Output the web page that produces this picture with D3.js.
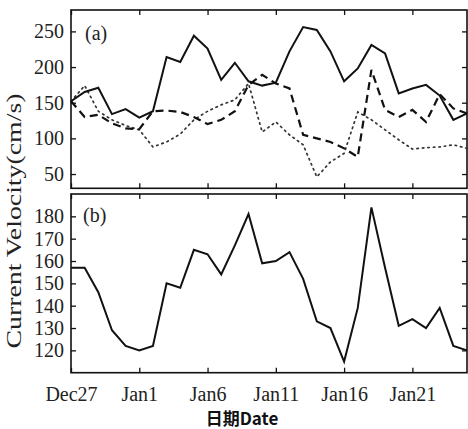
<!DOCTYPE html>
<html><head><meta charset="utf-8">
<script src="https://cdn.jsdelivr.net/npm/d3@7"></script>
<style>body{margin:0;background:#fff}svg{display:block}
.serif{font-family:"Liberation Serif",serif}</style>
</head><body>
<script>
const days = [0,1,2,3,4,5,6,7,8,9,10,11,12,13,14,15,16,17,18,19,20,21,22,23,24,25,26,27,28,29];
const tickDays = [0,5,10,15,20,25];
const tickLabels = ["Dec27","Jan1","Jan6","Jan11","Jan16","Jan21"];
const solidA  = [152,165,171,134,141,129,138,214,207,244,226,182,206,180,174,178,222,256,252,222,180,198,231,219,163,170,175,160,126,135];
const dashedA = [152,130,133,121,114,113,138,139,137,130,120,126,138,175,189,177,170,105,100,95,86,74,196,140,130,140,123,162,142,135];
const dottedA = [152,174,138,126,118,112,88,95,106,126,138,147,154,177,109,123,105,91,46,67,79,137,126,112,98,85,87,88,91,86];
const velB    = [157,157,146,129,122,120,122,150,148,165,163,154,167,181,159,160,164,152,133,130,115,139,184,157,131,134,130,139,122,120];
const yTicksA = [50,100,150,200,250];
const yTicksB = [120,130,140,150,160,170,180];

const W = 468, H = 429;
const svg = d3.select("body").append("svg").attr("width", W).attr("height", H);
const x = d3.scaleLinear().domain([0,29]).range([71,467]);
const yA = d3.scaleLinear().domain([30,280]).range([188.3,10]);
const yB = d3.scaleLinear().domain([110,190]).range([372.7,194]);

function panel(y, ticks, top, bottom, showX) {
  const g = svg.append("g");
  const tl = 5;
  const la = g.append("g").attr("transform", `translate(${x.range()[0]},0)`)
    .call(d3.axisLeft(y).tickValues(ticks).tickSize(-tl).tickPadding(7).tickFormat(d3.format("d")));
  const ra = g.append("g").attr("transform", `translate(${x.range()[1]},0)`)
    .call(d3.axisRight(y).tickValues(ticks).tickSize(-tl).tickFormat(""));
  const ta = g.append("g").attr("transform", `translate(0,${top})`)
    .call(d3.axisTop(x).tickValues(tickDays).tickSize(-tl).tickFormat(""));
  const ba = g.append("g").attr("transform", `translate(0,${bottom})`)
    .call(d3.axisBottom(x).tickValues(tickDays).tickSize(-tl).tickPadding(14)
      .tickFormat((d,i) => showX ? tickLabels[i] : ""));
  [la,ra,ta,ba].forEach(a => {
    a.attr("font-family", null).attr("font-size", null).attr("class","serif");
    a.select(".domain").remove();
    a.selectAll(".tick line").attr("stroke","#111").attr("stroke-width",1.3);
    a.selectAll("text").attr("font-size", 20).attr("fill","#222");
  });
  g.append("rect").attr("x", x.range()[0]).attr("y", top)
    .attr("width", x.range()[1]-x.range()[0]).attr("height", bottom-top)
    .attr("fill","none").attr("stroke","#111").attr("stroke-width",1.6);
  return g;
}

const gA = panel(yA, yTicksA, 10, 188.3, false);
const gB = panel(yB, yTicksB, 194, 372.7, true);

const lineA = d3.line().x((d,i) => x(days[i])).y(d => yA(d));
const lineB = d3.line().x((d,i) => x(days[i])).y(d => yB(d));

gA.append("path").datum(dottedA).attr("d", lineA).attr("fill","none")
  .attr("stroke","#333").attr("stroke-width",1.7).attr("stroke-dasharray","1.5,4").attr("stroke-linecap","round");
gA.append("path").datum(dashedA).attr("d", lineA).attr("fill","none")
  .attr("stroke","#111").attr("stroke-width",2.2).attr("stroke-dasharray","8,5");
gA.append("path").datum(solidA).attr("d", lineA).attr("fill","none")
  .attr("stroke","#111").attr("stroke-width",2);
gB.append("path").datum(velB).attr("d", lineB).attr("fill","none")
  .attr("stroke","#111").attr("stroke-width",2);

svg.append("text").attr("class","serif").attr("x", 85).attr("y", 40).text("(a)")
  .attr("font-size", 20).attr("fill","#222");
svg.append("text").attr("class","serif").attr("x", 83).attr("y", 222).text("(b)")
  .attr("font-size", 20).attr("fill","#222");

svg.append("text").attr("class","serif").attr("transform","translate(21,221) rotate(-90)")
  .attr("text-anchor","middle").attr("font-size", 21)
  .attr("textLength", 255).attr("lengthAdjust","spacingAndGlyphs")
  .attr("fill","#222").text("Current Velocity(cm/s)");

svg.append("text").attr("x", 242).attr("y", 425).attr("text-anchor","middle")
  .attr("font-family","'Noto Sans CJK SC','Liberation Sans',Arial,sans-serif")
  .attr("font-weight","bold").attr("font-size", 17).attr("fill","#111").text("日期Date");
</script>
</body></html>
